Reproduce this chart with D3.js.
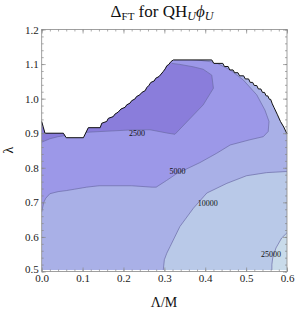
<!DOCTYPE html>
<html>
<head>
<meta charset="utf-8">
<script src="https://cdn.jsdelivr.net/npm/d3@7"></script>
<style>
  body { margin: 0; background: #fff; }
</style>
</head>
<body>
<script>
// contour plot of Delta_FT

var width = 296,
    height = 312;

var serif = "'Liberation Serif', 'Times New Roman', serif";

var xTicks = [0.0, 0.1, 0.2, 0.3, 0.4, 0.5, 0.6];
var yTicks = [0.5, 0.6, 0.7, 0.8, 0.9, 1.0, 1.1, 1.2];

var levels = [2500, 5000, 10000, 25000];

// top edge of the allowed region (left to right)
var boundary = [[0, 0.934], [0.008, 0.9], [0.053, 0.9], [0.06, 0.887], [0.102, 0.887],
  [0.114, 0.916], [0.143, 0.916], [0.147, 0.929], [0.159, 0.934], [0.163, 0.943],
  [0.175, 0.948], [0.179, 0.955], [0.187, 0.961], [0.194, 0.970], [0.204, 0.975],
  [0.208, 0.982], [0.216, 0.987], [0.220, 0.994], [0.228, 0.999], [0.232, 1.006],
  [0.240, 1.011], [0.245, 1.018], [0.253, 1.023], [0.257, 1.032], [0.262, 1.038],
  [0.267, 1.047], [0.275, 1.051], [0.279, 1.059], [0.287, 1.064], [0.292, 1.071],
  [0.297, 1.078], [0.302, 1.086], [0.306, 1.095], [0.311, 1.099], [0.316, 1.107],
  [0.322, 1.112], [0.416, 1.112], [0.421, 1.102], [0.443, 1.102], [0.447, 1.093],
  [0.456, 1.093], [0.460, 1.083], [0.468, 1.083], [0.472, 1.075], [0.480, 1.075],
  [0.484, 1.066], [0.494, 1.066], [0.498, 1.057], [0.506, 1.057], [0.510, 1.047],
  [0.516, 1.047], [0.520, 1.038], [0.526, 1.038], [0.530, 1.028], [0.536, 1.028],
  [0.540, 1.018], [0.545, 1.018], [0.549, 1.008], [0.553, 1.008], [0.557, 0.998],
  [0.560, 0.998], [0.564, 0.985], [0.568, 0.975], [0.576, 0.955], [0.584, 0.934],
  [0.592, 0.918], [0.6, 0.898]];
var lambdaMin = 0.5045;

// contour lines
var c2500 = [[0, 0.874], [0.02, 0.884], [0.04, 0.89], [0.113, 0.903], [0.211, 0.909],
  [0.265, 0.91], [0.309, 0.9], [0.326, 0.897], [0.395, 0.982], [0.42, 1.03],
  [0.416, 1.068], [0.395, 1.085], [0.371, 1.092], [0.338, 1.099], [0.318, 1.102]];
var c5000 = [[0, 0.672], [0.005, 0.700], [0.01, 0.712], [0.02, 0.725], [0.04, 0.731],
  [0.06, 0.734], [0.08, 0.738], [0.11, 0.744], [0.14, 0.748], [0.22, 0.748],
  [0.27, 0.744], [0.28, 0.744], [0.305, 0.763], [0.33, 0.783], [0.387, 0.815],
  [0.428, 0.842], [0.461, 0.866], [0.509, 0.881], [0.542, 0.890], [0.554, 0.905],
  [0.556, 0.934], [0.546, 0.967], [0.526, 1.011], [0.493, 1.054], [0.461, 1.083],
  [0.424, 1.105], [0.38, 1.112], [0.355, 1.114]];
var c10000 = [[0.297, 0.5], [0.30, 0.534], [0.306, 0.553], [0.314, 0.572], [0.338, 0.630],
  [0.371, 0.683], [0.404, 0.727], [0.453, 0.755], [0.501, 0.777], [0.550, 0.786],
  [0.595, 0.789], [0.6, 0.789]];
var c25000 = [[0.563, 0.5], [0.563, 0.520], [0.565, 0.539], [0.573, 0.568], [0.587, 0.597],
  [0.6, 0.612]];

// where the level labels sit
var labelAt = [[0.233, 0.9], [0.332, 0.789], [0.406, 0.698], [0.561, 0.551]];

var colors = ['#8a7ddb', '#9c98e8', '#a9b0e7', '#b9c9e8', '#c9dbea'];

var x = d3.scaleLinear().domain([0, 0.6]).range([41.7, 287]);
var y = d3.scaleLinear().domain([0.5, 1.2]).range([271.5, 29.5]);

var svg = d3.select('body').append('svg')
    .attr('width', width)
    .attr('height', height)
    .attr('font-family', serif);

svg.append('clipPath').attr('id', 'allowed')
  .append('path')
    .attr('d', d3.line().x(function(d){return x(d[0])}).y(function(d){return y(d[1])})
      (boundary.concat([[0.6, lambdaMin], [0, lambdaMin]])) + 'Z');

var line = d3.line()
    .x(function(d){return x(d[0])})
    .y(function(d){return y(d[1])});

var plot = svg.append('g').attr('clip-path', 'url(#allowed)');

// lowest band first, then the regions on top of it
plot.append('rect')
    .attr('x', x(0)).attr('y', y(1.2))
    .attr('width', x(0.6) - x(0)).attr('height', y(0.5) - y(1.2))
    .style('fill', colors[2]);

var regions = [
  {pts: c5000.concat([[0.3, 1.2], [0, 1.2]]), color: colors[1]},
  {pts: c2500.concat([[0.3, 1.2], [0, 1.2]]), color: colors[0]},
  {pts: c10000.concat([[0.6, 0.45], [0.297, 0.45]]), color: colors[3]},
  {pts: c25000.concat([[0.6, 0.45], [0.563, 0.45]]), color: colors[4]}
];

plot.selectAll('path.region')
    .data(regions)
  .enter().append('path')
    .attr('class', 'region')
    .attr('d', function(d){return line(d.pts) + 'Z'})
    .style('fill', function(d){return d.color});

plot.selectAll('path.contour')
    .data([c2500, c5000, c10000, c25000])
  .enter().append('path')
    .attr('class', 'contour')
    .attr('d', line)
    .style('fill', 'none')
    .style('stroke', '#6c6ca6')
    .style('stroke-width', 0.7);

svg.append('path')
    .attr('d', line(boundary))
    .style('fill', 'none')
    .style('stroke', '#111')
    .style('stroke-width', 1);

svg.selectAll('text.level')
    .data(levels)
  .enter().append('text')
    .attr('class', 'level')
    .attr('x', function(d, i){return x(labelAt[i][0])})
    .attr('y', function(d, i){return y(labelAt[i][1])})
    .attr('dy', '0.35em')
    .attr('text-anchor', 'middle')
    .style('font-size', '8px')
    .style('fill', '#111')
    .text(function(d){return d});

// frame and ticks
var xMinor = d3.range(0, 0.6001, 0.02);
var yMinor = d3.range(0.5, 1.2001, 0.02);

function axis(a, g, scale, major, minor, labels) {
  var gMin = svg.append('g').attr('transform', g);
  gMin.call(a(scale).tickValues(minor).tickSize(-2).tickFormat(''));
  var gMaj = svg.append('g').attr('transform', g);
  gMaj.call(a(scale).tickValues(major).tickSize(-4).tickPadding(3)
    .tickFormat(labels ? d3.format('.1f') : ''));
  [gMin, gMaj].forEach(function(s){
    s.attr('font-family', serif);
    s.select('.domain').remove();
    s.selectAll('line').style('stroke', '#888').style('stroke-width', 0.7);
    s.selectAll('text').style('font-size', '11px').style('fill', '#222');
  });
  return gMaj;
}

var gx = axis(d3.axisBottom, 'translate(0,' + y(0.5) + ')', x, xTicks, xMinor, true);
axis(d3.axisTop, 'translate(0,' + y(1.2) + ')', x, xTicks, xMinor, false);
var gy = axis(d3.axisLeft, 'translate(' + x(0) + ',0)', y, yTicks, yMinor, true);
axis(d3.axisRight, 'translate(' + x(0.6) + ',0)', y, yTicks, yMinor, false);

gx.selectAll('text').attr('y', 2.5);
gy.selectAll('text').filter(function(d){return d === 0.5}).attr('dy', '0.05em');

svg.append('rect')
    .attr('x', x(0)).attr('y', y(1.2))
    .attr('width', x(0.6) - x(0)).attr('height', y(0.5) - y(1.2))
    .style('fill', 'none')
    .style('stroke', '#888')
    .style('stroke-width', 0.8);

// titles
var title = svg.append('text')
    .attr('x', 162).attr('y', 17)
    .attr('text-anchor', 'middle')
    .style('font-size', '17px')
    .style('fill', '#111');
title.append('tspan').text('\u0394');
title.append('tspan').attr('dy', 3).style('font-size', '11px').text('FT');
title.append('tspan').attr('dy', -3).text(' for QH');
title.append('tspan').attr('dy', 3).style('font-size', '12px').style('font-style', 'italic').text('U');
title.append('tspan').attr('dy', -3).style('font-style', 'italic').text('\u03d5');
title.append('tspan').attr('dy', 3).style('font-size', '12px').style('font-style', 'italic').text('U');

svg.append('text')
    .attr('x', 164).attr('y', 307)
    .attr('text-anchor', 'middle')
    .style('font-size', '14px')
    .style('fill', '#111')
    .text('\u039b/M');

svg.append('text')
    .attr('transform', 'translate(13,150) rotate(-90)')
    .attr('text-anchor', 'middle')
    .style('font-size', '14px')
    .style('fill', '#111')
    .text('\u03bb');
</script>
</body>
</html>
